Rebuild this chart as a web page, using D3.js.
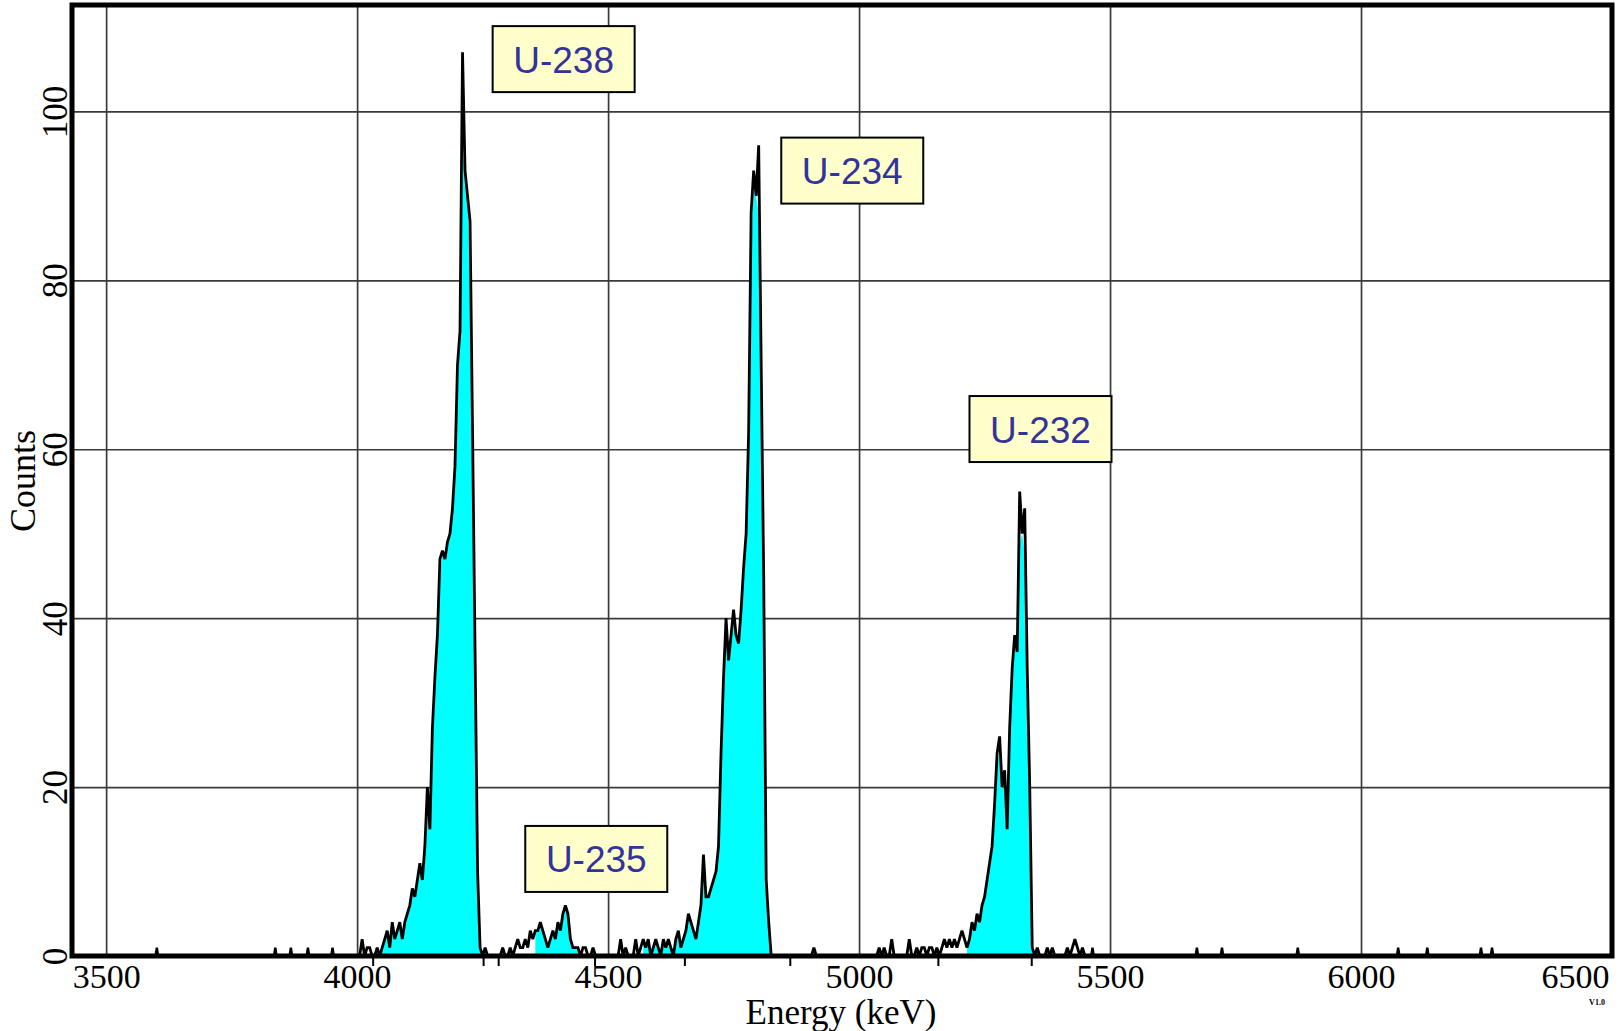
<!DOCTYPE html>
<html>
<head>
<meta charset="utf-8">
<script src="https://cdn.jsdelivr.net/npm/d3@7/dist/d3.min.js"></script>
<style>
  html, body { margin: 0; padding: 0; background: #ffffff; }
  svg { display: block; }
</style>
</head>
<body>
<svg id="chart" width="1619" height="1031"></svg>
<script>
// Alpha spectrum of a uranium sample: counts per 5 keV channel.
const channelStart = 4000;   // keV of first channel
const channelWidth = 5;      // keV per channel
const counts = [
  0, 0, 2, 0, 1, 1, 0, 0, 1, 0,          // 4000
  1, 2, 3, 1, 4, 2, 3, 4, 2, 4,          // 4050
  5, 6, 8, 7, 9, 11, 9, 13, 20, 15,      // 4100
  27, 33, 38, 47, 48, 47, 49, 50, 53, 58,// 4150
  70, 74, 107, 93, 90, 87, 62, 36, 10, 1,// 4200
  0, 1, 0, 0, 0, 0, 0, 0, 1, 0,          // 4250
  0, 1, 0, 1, 2, 1, 1, 2, 1, 3,          // 4300
  2, 3, 3, 4, 3, 2, 1, 2, 3, 2,          // 4350
  4, 3, 5, 6, 5, 2, 1, 1, 1, 0,          // 4400
  1, 1, 0, 0, 1, 0, 0, 0, 0, 0,          // 4450
  0, 0, 0, 0, 0, 2, 0, 1, 0, 0,          // 4500
  0, 2, 0, 1, 2, 1, 2, 0, 1, 2,          // 4550
  1, 0, 2, 1, 2, 1, 0, 2, 3, 1,          // 4600
  2, 3, 5, 4, 3, 2, 4, 6, 12, 7,         // 4650
  7, 8, 9, 10, 13, 24, 33, 40, 35, 38,   // 4700
  41, 38, 37, 41, 46, 50, 62, 88, 93, 90,// 4750
  96, 70, 45, 9, 4, 0, 0, 0, 0, 0,       // 4800
  0, 0, 0, 0, 0, 0, 0, 0, 0, 0,          // 4850
  0, 0, 1, 0, 0, 0, 0, 0, 0, 0,          // 4900
  0, 0, 0, 0, 0, 0, 0, 0, 0, 0,          // 4950
  0, 0, 0, 0, 0, 0, 0, 0, 1, 0,          // 5000
  1, 0, 0, 2, 0, 0, 0, 0, 0, 0,          // 5050
  2, 0, 0, 1, 0, 1, 1, 0, 1, 1,          // 5100
  0, 1, 0, 1, 2, 1, 2, 1, 2, 1,          // 5150
  2, 3, 2, 1, 2, 4, 3, 5, 4, 6,          // 5200
  7, 9, 11, 13, 18, 24, 26, 20, 22, 15,  // 5250
  27, 34, 38, 36, 55, 50, 53, 34, 20, 1, // 5300
  0, 1, 0, 0, 0, 1, 0, 1, 0, 0,          // 5350
  0, 0, 0, 1, 0, 1, 2, 1, 0, 1,          // 5400
  0                                       // 5450
];

// Isolated single counts away from the peaks
const strayEnergies = [3601, 3837, 3868, 3902, 3951, 5465, 5673, 5723, 5874, 6074, 6132, 6239, 6261];
const strayCounts   = [1, 1, 1, 1, 1, 1, 1, 1, 1, 1, 1, 1, 1];

// Energy windows that are shaded under each peak
const shadedWindows = [[4045, 4248], [4355, 4440], [4570, 4830], [5215, 5346]];

// Region-of-interest markers on the energy axis
const roiMarkers = [4032, 4252, 4282, 4474, 4653, 4863, 5158, 5344];

// Axis ticks
const xTicks = [3500, 4000, 4500, 5000, 5500, 6000, 6500];
const yTicks = [0, 20, 40, 60, 80, 100];

// Isotope labels, anchored at (energy, counts) of the box's top-left corner
const isotopeNames   = ["U-238", "U-235", "U-234", "U-232"];
const isotopeEnergy  = [4270, 4335, 4845, 5220];
const isotopeCounts  = [110.1, 15.4, 96.9, 66.3];

// ---------------------------------------------------------------
const svg = d3.select("#chart");
const plot = { left: 72, right: 1612, top: 5, bottom: 956 };

const x = d3.scaleLinear().domain([3432, 6500]).range([plot.left, plot.right]);
const y = d3.scaleLinear().domain([0, 112.6]).range([plot.bottom, plot.top]);

svg.append("rect").attr("width", 1619).attr("height", 1031).attr("fill", "#fff");

// Grid
const grid = svg.append("g").attr("class", "grid");
grid.append("g")
  .attr("transform", `translate(0,${plot.bottom})`)
  .call(d3.axisBottom(x).tickValues(xTicks.filter(v => v < 6500)).tickSize(-(plot.bottom - plot.top)).tickFormat(""))
  .call(g => g.select(".domain").remove())
  .call(g => g.selectAll("line").attr("stroke", "#3a3a3a").attr("stroke-width", 1.7));
grid.append("g")
  .attr("transform", `translate(${plot.left},0)`)
  .call(d3.axisLeft(y).tickValues(yTicks.filter(v => v > 0)).tickSize(-(plot.right - plot.left)).tickFormat(""))
  .call(g => g.select(".domain").remove())
  .call(g => g.selectAll("line").attr("stroke", "#3a3a3a").attr("stroke-width", 1.6));

// Spectrum points
const spectrum = counts.map((c, i) => ({ e: channelStart + i * channelWidth, c }));

// Shading follows a lightly smoothed lower envelope of the counts
const shade = spectrum.map((d, i) => {
  const prev = i > 0 ? counts[i - 1] : d.c;
  const next = i < counts.length - 1 ? counts[i + 1] : d.c;
  const smooth = 0.25 * prev + 0.5 * d.c + 0.25 * next;
  const inside = shadedWindows.some(([a, b]) => d.e >= a && d.e <= b);
  return { e: d.e, c: Math.min(d.c, smooth), inside };
});

const area = d3.area()
  .defined(d => d.inside)
  .x(d => x(d.e))
  .y0(y(0))
  .y1(d => y(d.c));

svg.append("path")
  .datum(shade)
  .attr("d", area)
  .attr("fill", "#00ffff")
  .attr("stroke", "none");

const line = d3.line().x(d => x(d.e)).y(d => y(d.c));

svg.append("path")
  .datum(spectrum)
  .attr("d", line)
  .attr("fill", "none")
  .attr("stroke", "#000")
  .attr("stroke-width", 2.8)
  .attr("stroke-linejoin", "miter")
  .attr("stroke-miterlimit", 2);

// Isolated counts
svg.append("g").selectAll("path")
  .data(strayEnergies.map((e, i) => [
    { e: e - channelWidth / 2, c: 0 }, { e, c: strayCounts[i] }, { e: e + channelWidth / 2, c: 0 }
  ]))
  .join("path")
  .attr("d", line)
  .attr("fill", "none")
  .attr("stroke", "#000")
  .attr("stroke-width", 2.4);

// Frame
svg.append("rect")
  .attr("x", plot.left).attr("y", plot.top)
  .attr("width", plot.right - plot.left).attr("height", plot.bottom - plot.top)
  .attr("fill", "none").attr("stroke", "#000").attr("stroke-width", 5);

// ROI markers below the axis
svg.append("g").selectAll("line")
  .data(roiMarkers)
  .join("line")
  .attr("x1", d => x(d)).attr("x2", d => x(d))
  .attr("y1", plot.bottom).attr("y2", plot.bottom + 10)
  .attr("stroke", "#000").attr("stroke-width", 2);

// Axis labels
const serif = "'Liberation Serif', 'Times New Roman', serif";

const xAxis = svg.append("g")
  .attr("transform", `translate(0,${plot.bottom})`)
  .call(d3.axisBottom(x).tickValues(xTicks).tickSize(0).tickPadding(0).tickFormat(d3.format("d")));
xAxis.select(".domain").remove();
xAxis.selectAll("text")
  .attr("y", 32).attr("dy", 0)
  .attr("font-family", serif).attr("font-size", 34).attr("fill", "#000")
  .filter(d => d === 6500)
  .attr("text-anchor", "end").attr("x", -3);

const yAxis = svg.append("g")
  .attr("transform", `translate(${plot.left},0)`)
  .call(d3.axisLeft(y).tickValues(yTicks).tickSize(0).tickFormat(d3.format("d")));
yAxis.select(".domain").remove();
yAxis.selectAll("text")
  .attr("x", null).attr("dy", null)
  .attr("transform", "translate(-5,0) rotate(-90)")
  .attr("text-anchor", "middle")
  .attr("font-family", serif).attr("font-size", 35).attr("fill", "#000");

svg.append("text")
  .attr("x", 841).attr("y", 1024)
  .attr("text-anchor", "middle")
  .attr("font-family", serif).attr("font-size", 35)
  .text("Energy (keV)");

svg.append("text")
  .attr("transform", "translate(35,481) rotate(-90)")
  .attr("text-anchor", "middle")
  .attr("font-family", serif).attr("font-size", 36)
  .text("Counts");

svg.append("text")
  .attr("x", 1597).attr("y", 1005)
  .attr("text-anchor", "middle")
  .attr("font-family", serif).attr("font-size", 8).attr("font-weight", "bold")
  .text("V1.0");

// Isotope label boxes
const boxW = 142, boxH = 66;
const labels = svg.append("g").selectAll("g")
  .data(isotopeNames.map((name, i) => ({ name, e: isotopeEnergy[i], c: isotopeCounts[i] })))
  .join("g")
  .attr("transform", d => `translate(${x(d.e)},${y(d.c)})`);
labels.append("rect")
  .attr("width", boxW).attr("height", boxH)
  .attr("fill", "#ffffcc").attr("stroke", "#000").attr("stroke-width", 2);
labels.append("text")
  .attr("x", boxW / 2).attr("y", 46.5)
  .attr("text-anchor", "middle")
  .attr("font-family", "'Liberation Sans', Arial, sans-serif")
  .attr("font-size", 37)
  .attr("fill", "#333399")
  .text(d => d.name);
</script>
</body>
</html>
